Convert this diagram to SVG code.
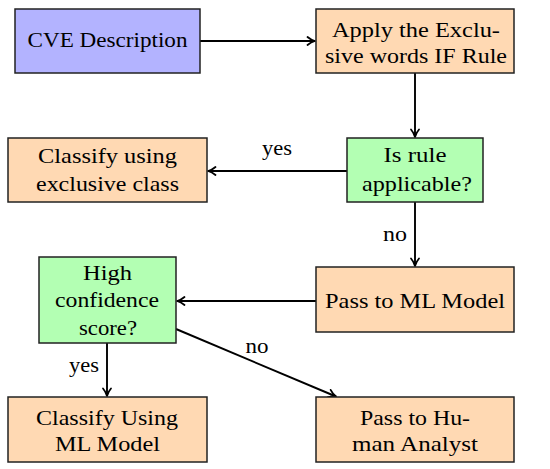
<svg xmlns="http://www.w3.org/2000/svg" width="550" height="469" viewBox="0 0 550 469">
<style>
.box{stroke:#222;stroke-width:1.5}
.blue{fill:#b3b3ff}
.orange{fill:#ffd9b3}
.green{fill:#b3ffb3}
text{font-family:"Liberation Serif","DejaVu Serif",serif;font-size:22px;fill:#000;text-anchor:middle}
.edge{stroke:#000;stroke-width:1.9;fill:none;marker-end:url(#arr)}
</style>
<defs>
<marker id="arr" markerWidth="12" markerHeight="12" refX="9" refY="5" orient="auto" markerUnits="userSpaceOnUse" viewBox="0 0 12 10">
<path d="M1.5,1 Q5,4 9,5 Q5,6 1.5,9" fill="none" stroke="#000" stroke-width="1.8" stroke-linecap="round" stroke-linejoin="round"/>
</marker>
</defs>
<rect width="550" height="469" fill="#fff"/>
<g id="connectors">
<line class="edge" x1="200" y1="41" x2="315" y2="41"/>
<line class="edge" x1="415" y1="73" x2="415" y2="137"/>
<line class="edge" x1="347" y1="171" x2="208" y2="171"/>
<line class="edge" x1="415" y1="202" x2="415" y2="266"/>
<line class="edge" x1="316" y1="301" x2="177" y2="301"/>
<line class="edge" x1="107" y1="343" x2="107" y2="396"/>
<line class="edge" x1="176" y1="329" x2="336" y2="396.5"/>
<text x="277" y="155" textLength="30" lengthAdjust="spacingAndGlyphs">yes</text>
<text x="395" y="241" textLength="24" lengthAdjust="spacingAndGlyphs">no</text>
<text x="84" y="372" textLength="30" lengthAdjust="spacingAndGlyphs">yes</text>
<text x="257" y="353" textLength="23" lengthAdjust="spacingAndGlyphs">no</text>
</g>
<g id="cve">
<rect class="box blue" x="15" y="9" width="185" height="64"/>
<text x="107.5" y="47" textLength="160" lengthAdjust="spacingAndGlyphs">CVE Description</text>
</g>
<g id="apply">
<rect class="box orange" x="316" y="9" width="198" height="64"/>
<text x="416" y="37" textLength="168" lengthAdjust="spacingAndGlyphs">Apply the Exclu-</text>
<text x="416" y="63" textLength="182" lengthAdjust="spacingAndGlyphs">sive words IF Rule</text>
</g>
<g id="isrule">
<rect class="box green" x="347" y="138" width="136" height="64"/>
<text x="415" y="162" textLength="63" lengthAdjust="spacingAndGlyphs">Is rule</text>
<text x="417" y="191" textLength="110" lengthAdjust="spacingAndGlyphs">applicable?</text>
</g>
<g id="classify-excl">
<rect class="box orange" x="8" y="138" width="199" height="64"/>
<text x="107.5" y="163" textLength="139" lengthAdjust="spacingAndGlyphs">Classify using</text>
<text x="107.5" y="191" textLength="143" lengthAdjust="spacingAndGlyphs">exclusive class</text>
</g>
<g id="passml">
<rect class="box orange" x="316" y="267" width="198" height="65"/>
<text x="415" y="308" textLength="180" lengthAdjust="spacingAndGlyphs">Pass to ML Model</text>
</g>
<g id="high">
<rect class="box green" x="39" y="257" width="137" height="86"/>
<text x="107.5" y="280" textLength="49" lengthAdjust="spacingAndGlyphs">High</text>
<text x="107" y="307" textLength="104" lengthAdjust="spacingAndGlyphs">confidence</text>
<text x="108" y="335" textLength="58" lengthAdjust="spacingAndGlyphs">score?</text>
</g>
<g id="classify-ml">
<rect class="box orange" x="8" y="397" width="199" height="65"/>
<text x="107" y="425" textLength="142" lengthAdjust="spacingAndGlyphs">Classify Using</text>
<text x="107.5" y="451" textLength="105" lengthAdjust="spacingAndGlyphs">ML Model</text>
</g>
<g id="human">
<rect class="box orange" x="316" y="397" width="198" height="65"/>
<text x="415" y="425" textLength="110" lengthAdjust="spacingAndGlyphs">Pass to Hu-</text>
<text x="415" y="451" textLength="126" lengthAdjust="spacingAndGlyphs">man Analyst</text>
</g>
</svg>
